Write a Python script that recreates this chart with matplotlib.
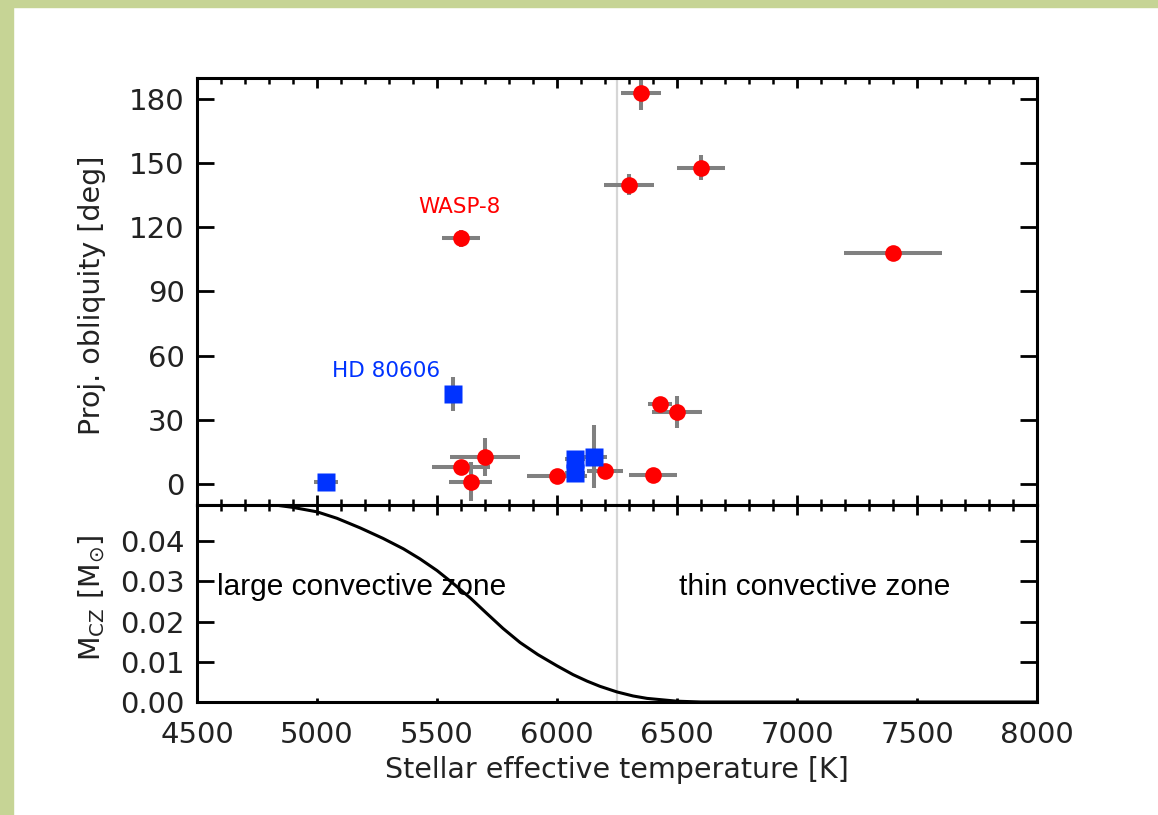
import matplotlib
matplotlib.use('Agg')
import matplotlib.pyplot as plt
from matplotlib.patches import Rectangle
from matplotlib.ticker import MultipleLocator

#==============================================================================#
# values

# red circles (Teff [K], projected obliquity [deg] and their errors)
red_teff = [6350, 6300, 6600, 5600, 7400, 5700, 5600, 5640, 6000, 6200, 6400, 6430, 6500]
red_teff_err = [85, 105, 100, 80, 205, 145, 120, 90, 125, 75, 100, 50, 105]
red_lam = [183, 140, 148, 115, 108, 12.6, 8, 1, 3.7, 6, 4, 37.4, 33.6]
red_lam_err = [8, 5, 6, 4, 2, 9, 3, 9, 2, 3, 3, 3, 7.5]

# blue squares
blue_teff = [5567, 5037, 6075, 6075, 6154]
blue_teff_err = [30, 50, 40, 40, 55]
blue_lam = [42, 1, 11.7, 5, 12.6]
blue_lam_err = [8, 1, 3, 3, 14.7]

# mass of the convective zone vs Teff (lower panel)
cz_teff = [4800, 4900, 5000, 5083, 5180, 5275, 5360, 5429, 5500, 5567, 5640,
           5708, 5775, 5846, 5920, 6000, 6067, 6125, 6179, 6250, 6317, 6375,
           6500, 6600, 8000]
cz_mass = [0.0492, 0.0484, 0.0473, 0.0457, 0.0433, 0.0407, 0.0381, 0.0356,
           0.0327, 0.0295, 0.0258, 0.0220, 0.0183, 0.0148, 0.0118, 0.0090,
           0.0068, 0.0052, 0.0039, 0.0025, 0.0015, 0.0009, 0.0002, 0.0, 0.0]

teff_cut = 6250

#==============================================================================#

W, H = 1158, 815
fig = plt.figure(figsize=(W / 100, H / 100), dpi=100)
fig.patch.set_facecolor('white')

# green slide frame on the left and top
fig.patches.append(Rectangle((0, 0), 13 / W, 1, transform=fig.transFigure,
                             color='#c6d495', zorder=0))
fig.patches.append(Rectangle((0, 1 - 7 / H), 1, 7 / H, transform=fig.transFigure,
                             color='#c6d495', zorder=0))

left, right = 197 / W, 1037 / W
y_mid = 1 - 505 / H
ax1 = fig.add_axes([left, y_mid, right - left, (505 - 78) / H])
ax2 = fig.add_axes([left, 1 - 702 / H, right - left, (702 - 505) / H], sharex=ax1)

for ax in (ax1, ax2):
    for s in ax.spines.values():
        s.set_linewidth(2.2)
    ax.axvline(teff_cut, color='#d6d6d6', lw=1.6, zorder=0)
    ax.xaxis.set_major_locator(MultipleLocator(500))
    ax.xaxis.set_minor_locator(MultipleLocator(100))
    ax.tick_params(axis='both', which='major', direction='in', top=True,
                   right=True, width=2.0, labelsize=21, labelcolor='#222222')
    ax.tick_params(axis='y', which='major', length=12, pad=9)
    ax.tick_params(axis='x', which='major', length=7)
    ax.tick_params(axis='x', which='minor', direction='in', top=True,
                   length=4, width=1.8)

# upper panel: obliquities
ax1.errorbar(red_teff, red_lam, xerr=red_teff_err, yerr=red_lam_err, fmt='none',
             ecolor='#808080', elinewidth=2.9, capsize=0, zorder=2)
ax1.errorbar(blue_teff, blue_lam, xerr=blue_teff_err, yerr=blue_lam_err, fmt='none',
             ecolor='#808080', elinewidth=2.9, capsize=0, zorder=2)
ax1.plot(red_teff, red_lam, 'o', color='#ff0000', markersize=12, mec='none', zorder=3)
ax1.plot(blue_teff, blue_lam, 's', color='#0033ff', markersize=13, mec='none', zorder=4)

ax1.text(5592, 129.7, 'WASP-8', color='#ff0000', fontsize=15.5, ha='center', va='center')
ax1.text(5287, 52.9, 'HD 80606', color='#0033ff', fontsize=15.5, ha='center', va='center')

ax1.set_xlim(4500, 8000)
ax1.set_ylim(-10, 190)
ax1.set_yticks([0, 30, 60, 90, 120, 150, 180])
ax1.tick_params(axis='x', labelbottom=False)

# lower panel: convective zone mass
ax2.plot(cz_teff, cz_mass, color='black', lw=2.2, zorder=3)
ax2.set_ylim(0, 0.049)
ax2.set_yticks([0.0, 0.01, 0.02, 0.03, 0.04])
ax2.set_yticklabels(['0.00', '0.01', '0.02', '0.03', '0.04'])
ax2.tick_params(axis='x', which='minor', bottom=False, top=True)
ax2.tick_params(axis='x', which='major', pad=14)
for t in ax2.xaxis.get_major_ticks():
    t.tick1line.set_markersize(3)

ax2.text(4583, 0.0285, 'large convective zone', family='Liberation Sans',
         fontsize=21.5, ha='left', va='center')
ax2.text(6508, 0.0285, 'thin convective zone', family='Liberation Sans',
         fontsize=21.5, ha='left', va='center')

ax2.set_xlabel('Stellar effective temperature [K]', fontsize=20.5, color='#222222',
               labelpad=5)

fig.text(92 / W, 1 - 295 / H, 'Proj. obliquity [deg]', rotation=90, fontsize=20.5,
         color='#222222', ha='center', va='center')
fig.text(92 / W, 1 - 598 / H, r'M$_{\rm CZ}$ [M$_{\odot}$]', rotation=90,
         fontsize=20.5, color='#222222', ha='center', va='center')

fig.savefig('out.png', dpi=100)
